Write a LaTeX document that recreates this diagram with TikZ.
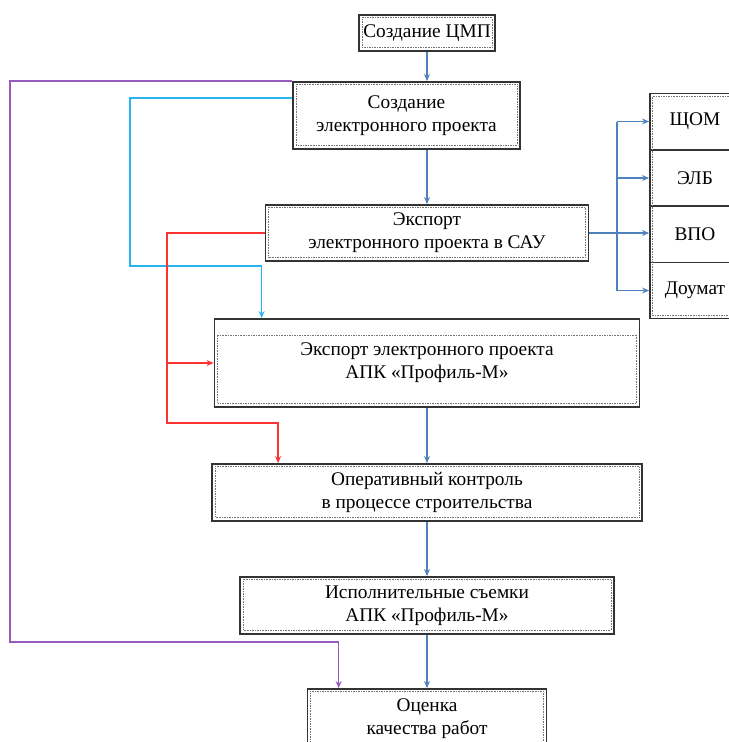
\documentclass[tikz,border=0pt]{standalone}
\usepackage{fontspec}
\setmainfont{Liberation Serif}
\usetikzlibrary{arrows.meta}
\definecolor{flowblue}{RGB}{79,129,189}
\definecolor{fbcyan}{RGB}{40,180,240}
\definecolor{fbred}{RGB}{255,50,50}
\definecolor{fbpurple}{RGB}{150,90,195}
\tikzset{every node/.style={inner sep=2pt, font=\rmfamily\fontsize{16.5}{19.5}\selectfont},
  blk/.style={draw=black!80, line width=1.5pt, fill=white, align=center},
  cell/.style={draw=black!80, line width=1.5pt, minimum width=2.7cm, minimum height=1.68cm},
  inframe/.style={draw=black!55, densely dotted, thin},
  flow/.style={draw=flowblue, line width=1.1pt, -{Stealth[length=6pt,width=5pt]}},
  cyanarr/.style={draw=fbcyan, line width=1.3pt, -{Stealth[length=6pt,width=5pt]}},
  redarr/.style={draw=fbred, line width=1.3pt, -{Stealth[length=6pt,width=5pt]}},
  purparr/.style={draw=fbpurple, line width=1.3pt, -{Stealth[length=6pt,width=5pt]}}}

\begin{document}
\begin{tikzpicture}[x=0.03cm, y=-0.03cm]
  \useasboundingbox (0,0) rectangle (729,742);
  \clip (0,0) rectangle (729,742);

  \node[blk, minimum width=4.08cm, minimum height=1.08cm] (b1) at (427,33) {Создание ЦМП};
  \node[blk, minimum width=6.81cm, minimum height=2.01cm] (b2) at (406.5,115.5) {Создание\\электронного проекта};
  \node[blk, minimum width=9.69cm, minimum height=1.68cm] (b3) at (427,233) {Экспорт\\ электронного проекта в САУ};
  \node[blk, minimum width=12.75cm, minimum height=2.64cm] (b4) at (427,363) {Экспорт электронного проекта\\АПК «Профиль-М»};
  \node[blk, minimum width=12.9cm, minimum height=1.71cm] (b5) at (427,492.5) {Оперативный контроль\\в процессе строительства};
  \node[blk, minimum width=11.22cm, minimum height=1.71cm] (b6) at (427,605.5) {Исполнительные съемки\\АПК «Профиль-М»};
  \node[blk, minimum width=7.17cm, minimum height=1.8cm] (b7) at (427,719) {Оценка\\качества работ};

  \node[cell] (shom) at (695,121.5) {ЩОМ};
  \node[cell] (elb) at (695,178) {ЭЛБ};
  \node[cell] (vpo) at (695,234.5) {ВПО};
  \node[cell] (doumat) at (695,290.5) {Доумат};

  % inner dotted frames
  \foreach \n/\t in {b1/0.1, b2/0.1, b3/0.1, b4/0.5, b5/0.1, b6/0.1, b7/0.1}
    \draw[inframe] ([xshift=0.12cm,yshift=-\t cm]\n.north west) rectangle ([xshift=-0.12cm,yshift=0.15cm]\n.south east);
  \draw[inframe] ([xshift=0.1cm,yshift=-0.12cm]shom.north west) rectangle ([xshift=-0.1cm,yshift=0.12cm]doumat.south east);

  % main chain
  \draw[flow] (b1.south) -- (b1.south |- b2.north);
  \draw[flow] (b3.north |- b2.south) -- (b3.north);
  \draw[flow] (b4.south) -- (b4.south |- b5.north);
  \draw[flow] (b5.south) -- (b5.south |- b6.north);
  \draw[flow] (b6.south) -- (b6.south |- b7.north);

  % export to the right
  \coordinate (bus) at (617,233);
  \draw[flow] (b3.east) -- (b3.east -| vpo.west);
  \draw[flow, -] (bus |- shom.west) -- (bus |- doumat.west);
  \foreach \c in {shom,elb,doumat}
    \draw[flow] (bus |- \c.west) -- (\c.west);

  % feedback lines
  \draw[cyanarr] ([yshift=0.52cm]b2.west) -| (130,266) -| ([xshift=1.44cm]b4.north west);
  \coordinate (rd) at (167,423);
  \draw[redarr] (b3.west) -| (rd) -| ([xshift=2.01cm]b5.north west);
  \draw[redarr] (rd |- b4.west) -- (b4.west);
  \draw[purparr] (b2.north west) -| (10,642) -| ([xshift=0.96cm]b7.north west);
\end{tikzpicture}
\end{document}
